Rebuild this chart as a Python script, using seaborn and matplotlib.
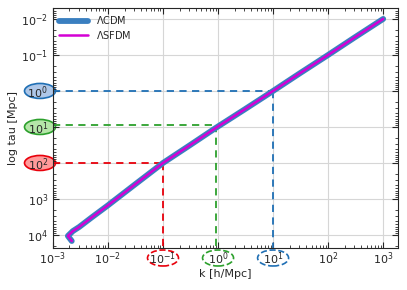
import numpy as np
import pandas as pd
import matplotlib
matplotlib.use("Agg")
import matplotlib.pyplot as plt
from matplotlib.patches import Ellipse
import seaborn as sns

# curve (k in h/Mpc, tau in Mpc)
k_vals = [2.2e-3, 1.87e-3, 1.87e-3, 2.3e-3, 3.0e-3, 5.0e-3, 1.0e-2, 3.0e-2, 0.1, 0.3, 0.92, 3.0, 10.0, 30.0, 100.0, 300.0, 1000.0]
tau_vals = [1.47e4, 1.2e4, 9.4e3, 7.8e3, 6.0e3, 3.3e3, 1.5e3, 4.1e2, 1.0e2, 3.3e1, 10.5, 3.3, 1.0, 3.3e-1, 1.0e-1, 3.3e-2, 1.0e-2]

# dashed guide lines: (k, tau, colour)
guide_k = [10.0, 0.92, 0.1]
guide_tau = [1.0, 8.6, 100.0]
guide_colors = ["#1f6fb4", "#2ca02c", "#e8000b"]

xticks = [1e-3, 1e-2, 1e-1, 1e0, 1e1, 1e2, 1e3]
xticklabels = [r"$10^{-3}$", r"$10^{-2}$", r"$10^{-1}$", r"$10^{0}$", r"$10^{1}$", r"$10^{2}$", r"$10^{3}$"]
yticks = [1e-2, 1e-1, 1e0, 1e1, 1e2, 1e3, 1e4]
yticklabels = [r"$10^{-2}$", r"$10^{-1}$", r"$10^{0}$", r"$10^{1}$", r"$10^{2}$", r"$10^{3}$", r"$10^{4}$"]

# highlighted tick labels
y_mark_ticks = [1e0, 1e1, 1e2]
y_mark_fill = ["#aec7e8", "#b5e6a8", "#ff9a9a"]
y_mark_edge = ["#1f6fb4", "#2ca02c", "#e8000b"]
x_mark_ticks = [1e-1, 1e0, 1e1]
x_mark_edge = ["#e8000b", "#2ca02c", "#1f6fb4"]

df = pd.DataFrame({"k": k_vals, "tau": tau_vals})

sns.set_style("ticks")
plt.rcParams["font.family"] = ["DejaVu Sans"]
plt.rcParams["mathtext.fontset"] = "dejavusans"

W, H = 407, 290
fig = plt.figure(figsize=(W / 100, H / 100), dpi=100)
ax = fig.add_axes([0.130, 0.145, 0.848, 0.827])

ax.set_xscale("log")
ax.set_yscale("log")
ax.set_xlim(1e-3, 10**3.27)
ax.set_ylim(10**4.36, 10**-2.3)

ax.grid(True, which="major", color="#d6d6d6", lw=0.8)

# guide lines
for gk, gt, gc in zip(guide_k, guide_tau, guide_colors):
    ax.plot([1e-3, gk], [gt, gt], ls="--", color=gc, lw=1.3, dashes=(4, 3), zorder=2)
    ax.plot([gk, gk], [gt, 10**4.36], ls="--", color=gc, lw=1.3, dashes=(4, 3), zorder=2)

sns.lineplot(data=df, x="k", y="tau", sort=False, ax=ax, color="#3a7fc0",
             lw=4.2, label=r"$\Lambda$CDM", zorder=3)
sns.lineplot(data=df, x="k", y="tau", sort=False, ax=ax, color="#d400d4",
             lw=1.8, label=r"$\Lambda$SFDM", zorder=4)

ax.set_xticks(xticks)
ax.set_xticklabels(xticklabels)
ax.set_yticks(yticks)
ax.set_yticklabels(yticklabels)
ax.tick_params(which="both", direction="in", top=True, right=True, labelsize=8)
ax.tick_params(which="major", length=4)
ax.tick_params(which="minor", length=2)
ax.tick_params(axis="x", which="major", pad=2)

ax.set_xlabel("k [h/Mpc]", fontsize=8, labelpad=1)
ax.set_ylabel("log tau [Mpc]", fontsize=8, labelpad=2)

# ellipses round the highlighted tick labels (figure-fraction coordinates)
for t, fc, ec in zip(y_mark_ticks, y_mark_fill, y_mark_edge):
    _, py = ax.transData.transform((1.0, t))
    e = Ellipse((40 / W, py / H), 31 / W, 15 / H, transform=fig.transFigure,
                fc=fc, ec=ec, lw=1.2, clip_on=False, zorder=0.1)
    ax.add_artist(e)
for t, ec in zip(x_mark_ticks, x_mark_edge):
    px, _ = ax.transData.transform((t, 1.0))
    e = Ellipse((px / W, 1 - 258 / H), 31 / W, 16 / H, transform=fig.transFigure,
                fc="none", ec=ec, lw=1.2, ls="--", clip_on=False, zorder=0.1)
    ax.add_artist(e)

leg = ax.legend(loc="upper left", frameon=False, fontsize=7, handlelength=3,
                borderaxespad=0.2, labelspacing=0.3)

fig.savefig("out.png", dpi=100)
